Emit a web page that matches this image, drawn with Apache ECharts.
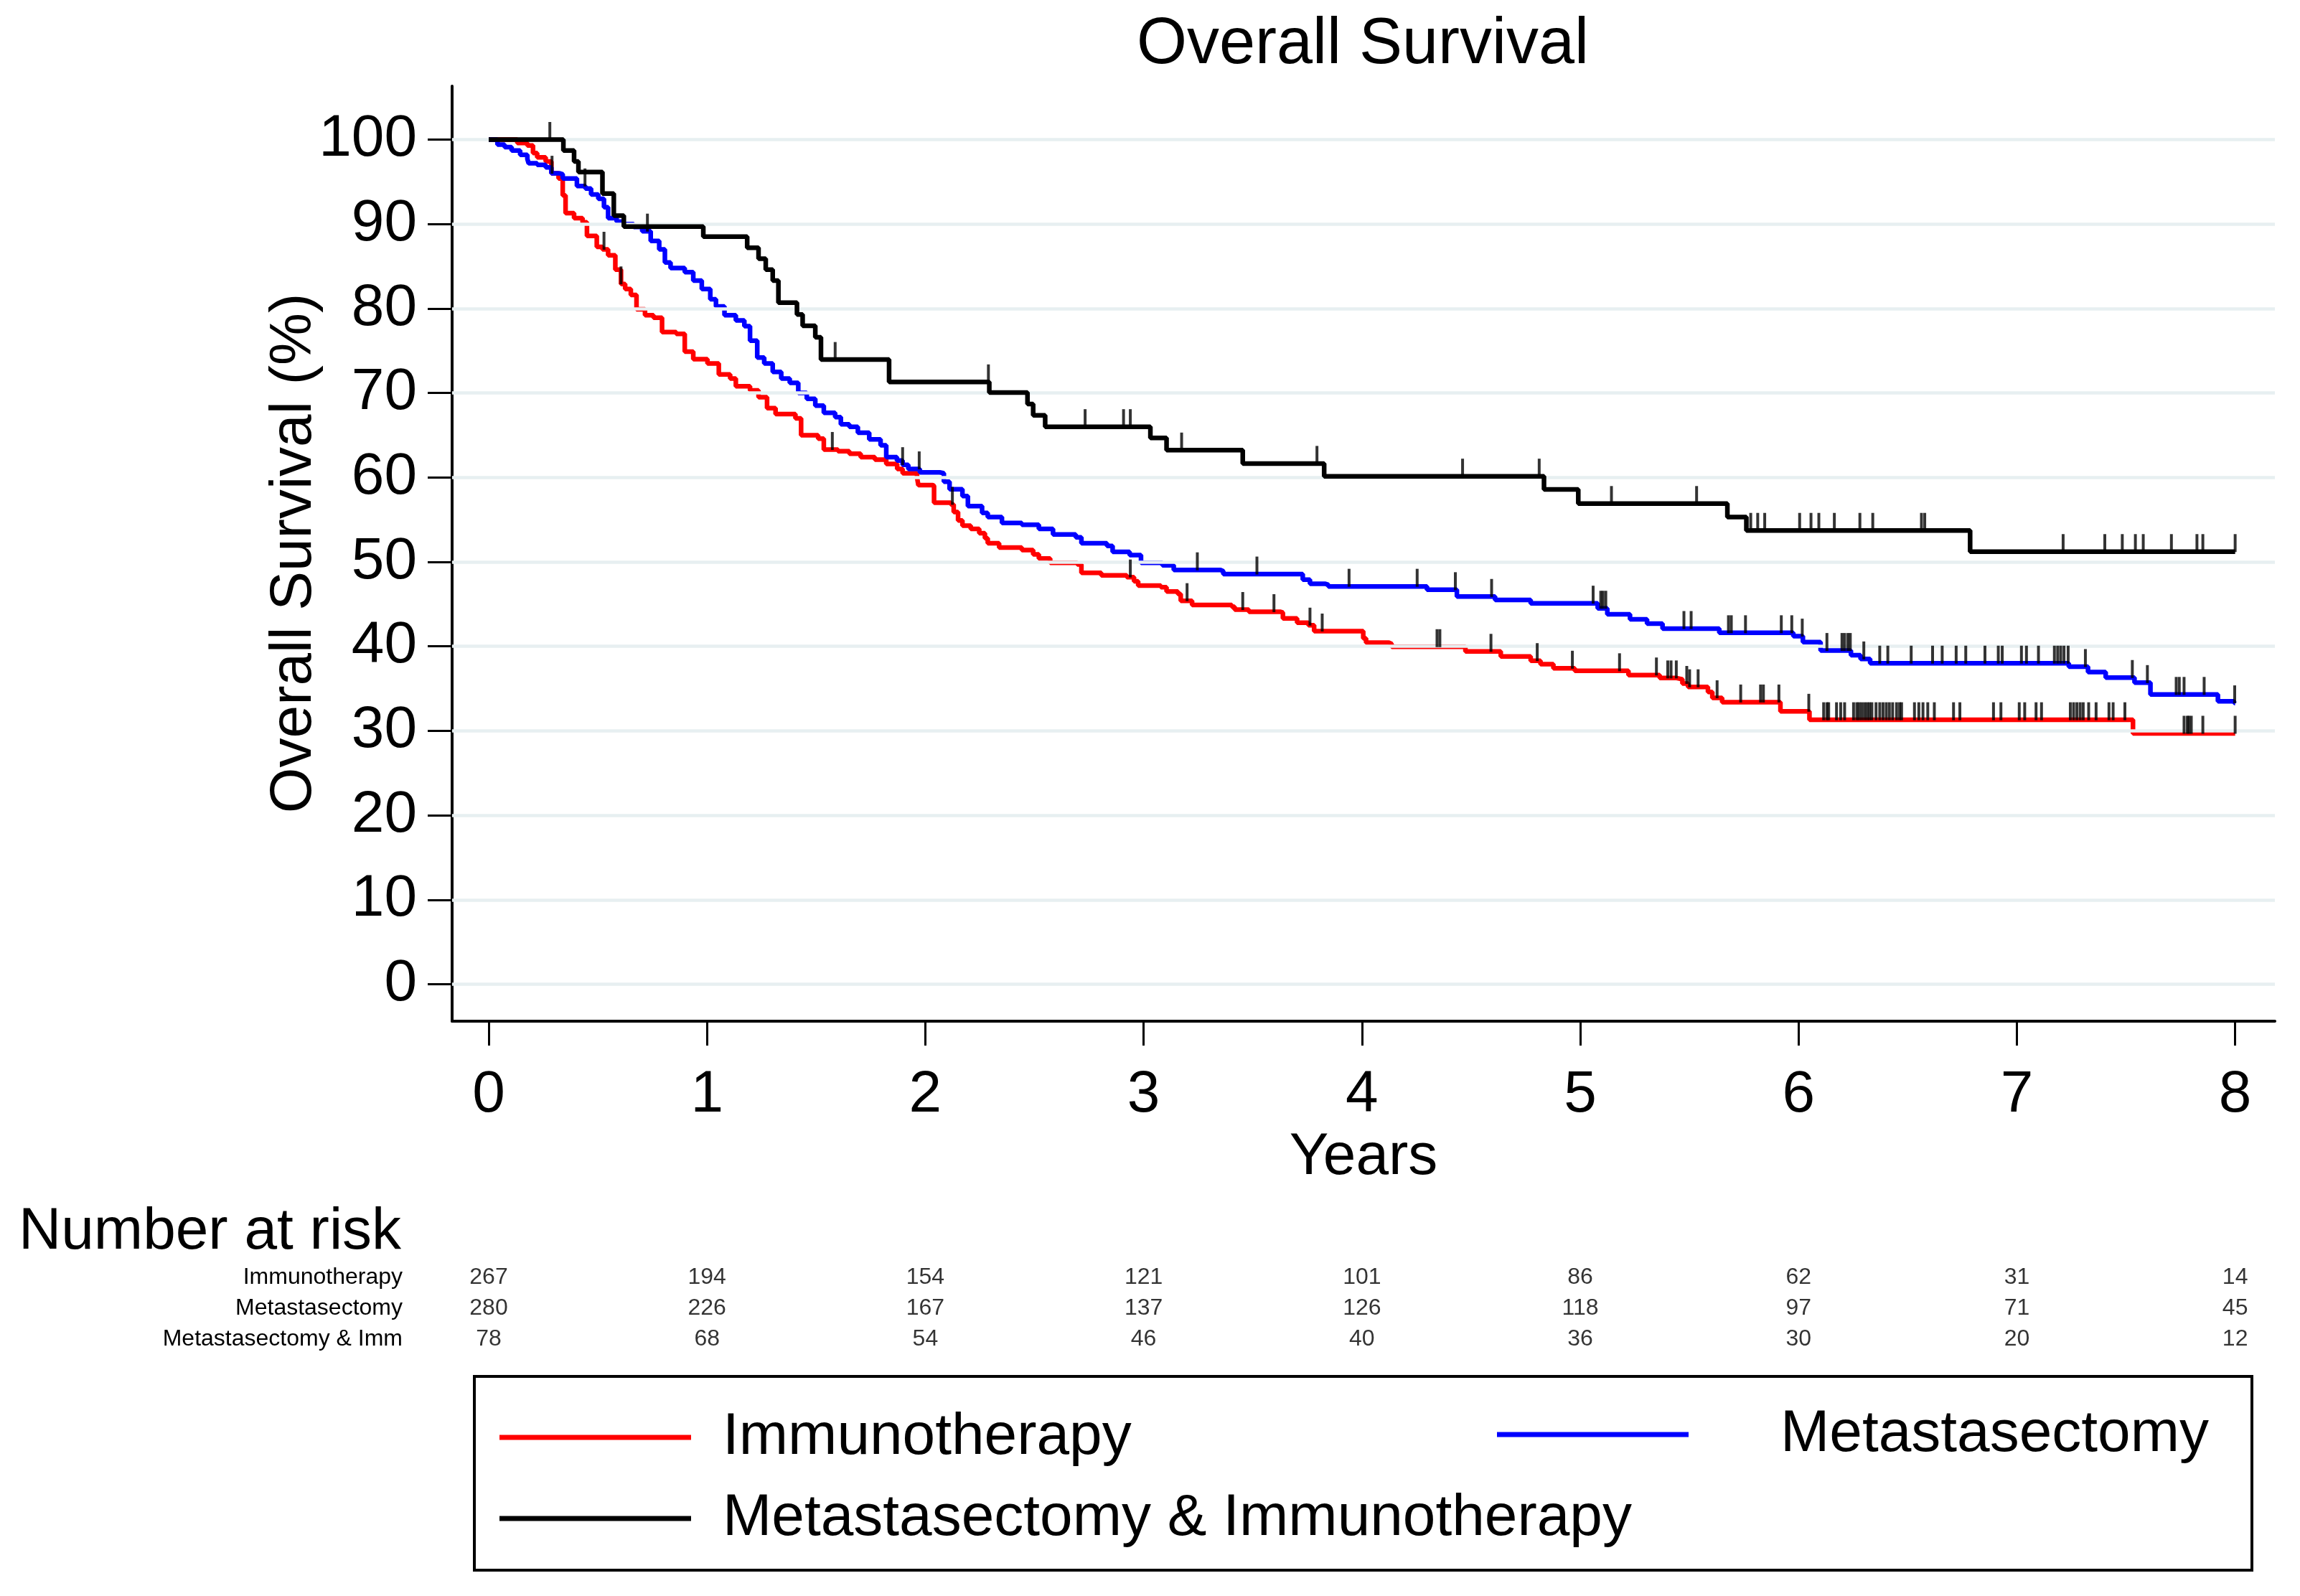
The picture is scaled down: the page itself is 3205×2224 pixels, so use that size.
<!DOCTYPE html>
<html><head><meta charset="utf-8">
<script src="https://cdn.jsdelivr.net/npm/echarts@6/dist/echarts.min.js"></script>
<style>html,body{margin:0;padding:0;background:#fff}#c{width:3205px;height:2224px}</style>
</head><body><div id="c"></div>
<script>
// ---------- data ----------
const groupNames = ['Immunotherapy', 'Metastasectomy', 'Metastasectomy & Immunotherapy'];
const riskRowLabels = ['Immunotherapy', 'Metastasectomy', 'Metastasectomy & Imm'];
const xTickValues = [0, 1, 2, 3, 4, 5, 6, 7, 8];
const yTickValues = [0, 10, 20, 30, 40, 50, 60, 70, 80, 90, 100];

const riskImmuno = [267, 194, 154, 121, 101, 86, 62, 31, 14];
const riskMeta   = [280, 226, 167, 137, 126, 118, 97, 71, 45];
const riskCombo  = [78, 68, 54, 46, 40, 36, 30, 20, 12];

// Kaplan-Meier curves: [years, survival % after the step]
const survImmuno = [[0,100],[0.131,99.6],[0.177,99.3],[0.203,98.4],[0.222,97.9],[0.261,97.4],[0.287,96.0],[0.320,95.4],[0.339,93.4],[0.352,91.3],[0.391,90.7],[0.43,90.2],[0.45,88.6],[0.495,87.3],[0.521,87.0],[0.547,86.3],[0.58,84.6],[0.606,82.9],[0.625,82.3],[0.651,81.6],[0.677,79.9],[0.716,79.2],[0.755,78.9],[0.794,77.2],[0.859,77.0],[0.898,74.9],[0.937,74.0],[1.002,73.5],[1.054,72.2],[1.106,71.7],[1.132,70.8],[1.197,70.3],[1.236,69.5],[1.275,68.2],[1.314,67.5],[1.405,67.0],[1.431,65.0],[1.509,64.6],[1.535,63.3],[1.6,63.1],[1.652,62.8],[1.704,62.4],[1.769,62.1],[1.821,61.6],[1.871,61.0],[1.896,60.5],[1.962,60.0],[1.968,59.1],[2.033,59.0],[2.04,57.0],[2.117,56.8],[2.13,55.9],[2.15,54.9],[2.17,54.3],[2.208,53.9],[2.247,53.4],[2.273,52.8],[2.286,52.2],[2.338,51.7],[2.442,51.4],[2.494,50.9],[2.52,50.4],[2.572,49.9],[2.696,49.7],[2.715,48.7],[2.806,48.4],[2.923,48.2],[2.956,47.7],[2.975,47.2],[3.079,47.0],[3.105,46.5],[3.157,46.2],[3.17,45.4],[3.222,44.9],[3.404,44.7],[3.417,44.35],[3.482,44.1],[3.625,44.0],[3.638,43.3],[3.703,42.8],[3.755,42.5],[3.781,41.8],[4.006,40.95],[4.019,40.45],[4.123,40.3],[4.136,39.95],[4.474,39.4],[4.636,38.8],[4.773,38.3],[4.818,37.9],[4.877,37.4],[4.975,37.1],[5.221,36.6],[5.364,36.25],[5.442,36.1],[5.468,35.6],[5.494,35.2],[5.585,34.6],[5.605,33.9],[5.65,33.4],[5.917,32.3],[6.05,31.3],[7.532,29.7],[8.0,29.7]];

const survMeta = [[0,100],[0.040,99.4],[0.073,99.1],[0.105,98.7],[0.144,98.2],[0.177,97.7],[0.183,97.2],[0.222,97.0],[0.261,96.7],[0.287,96.0],[0.326,95.9],[0.339,95.4],[0.404,94.5],[0.443,94.2],[0.469,93.5],[0.502,93.0],[0.528,92.0],[0.547,90.7],[0.586,90.3],[0.612,90.0],[0.664,89.65],[0.703,89.15],[0.742,88.0],[0.781,87.0],[0.807,85.45],[0.833,84.8],[0.898,84.3],[0.937,83.3],[0.976,82.3],[1.015,81.1],[1.041,80.25],[1.080,79.2],[1.132,78.6],[1.171,77.9],[1.197,76.2],[1.230,74.2],[1.262,73.5],[1.301,72.5],[1.340,71.7],[1.379,71.2],[1.418,70.0],[1.457,69.3],[1.496,68.5],[1.535,67.65],[1.587,67.15],[1.613,66.3],[1.652,66.0],[1.691,65.3],[1.743,64.5],[1.795,63.8],[1.821,62.4],[1.87,62.0],[1.896,61.5],[1.922,61.0],[1.975,60.6],[2.066,60.5],[2.085,59.5],[2.111,58.6],[2.17,57.8],[2.195,56.6],[2.26,55.8],[2.286,55.3],[2.351,54.6],[2.442,54.4],[2.52,53.9],[2.585,53.25],[2.689,52.9],[2.715,52.2],[2.832,51.9],[2.858,51.2],[2.936,50.8],[2.988,49.9],[3.086,49.6],[3.138,49.05],[3.352,48.9],[3.365,48.55],[3.729,47.9],[3.762,47.4],[3.833,47.3],[3.846,47.1],[4.298,46.7],[4.435,45.9],[4.61,45.5],[4.773,45.1],[5.08,44.5],[5.124,43.8],[5.228,43.2],[5.306,42.7],[5.377,42.1],[5.637,41.6],[5.976,41.2],[6.02,40.5],[6.101,39.5],[6.24,38.96],[6.284,38.5],[6.328,38.0],[7.238,37.6],[7.326,36.95],[7.407,36.3],[7.539,35.7],[7.612,34.3],[7.921,33.5],[7.995,33.3],[8.0,33.3]];

const survCombo = [[0,100],[0.342,98.7],[0.391,97.4],[0.411,96.15],[0.521,93.6],[0.573,91.0],[0.619,89.7],[0.983,88.5],[1.184,87.2],[1.236,85.9],[1.269,84.6],[1.301,83.3],[1.327,80.7],[1.412,79.3],[1.438,77.95],[1.496,76.6],[1.522,73.95],[1.834,71.3],[2.293,70.05],[2.468,68.7],[2.494,67.36],[2.549,66.0],[3.031,64.67],[3.105,63.23],[3.454,61.65],[3.827,60.14],[4.834,58.59],[4.991,56.9],[5.674,55.3],[5.761,53.72],[6.786,51.21],[8.0,51.21]];

// censoring times (years)
const censImmuno = [0.528,0.606,1.574,2.124,2.939,3.199,3.454,3.597,3.762,3.818,4.344,4.357,4.591,4.803,4.964,5.18,5.349,5.401,5.416,5.44,5.488,5.501,5.54,5.627,5.735,5.826,5.839,5.91,6.047,6.115,6.13,6.138,6.174,6.193,6.211,6.252,6.267,6.277,6.289,6.302,6.314,6.325,6.336,6.355,6.372,6.387,6.402,6.416,6.431,6.449,6.463,6.472,6.531,6.551,6.57,6.592,6.622,6.71,6.739,6.893,6.927,7.011,7.036,7.088,7.113,7.245,7.26,7.275,7.29,7.304,7.329,7.363,7.422,7.441,7.495,7.766,7.781,7.788,7.799,7.852,8.0];
const censMeta = [0.29,0.441,0.727,1.896,1.972,3.246,3.519,3.941,4.253,4.428,4.594,5.059,5.094,5.104,5.117,5.475,5.508,5.679,5.692,5.757,5.921,5.969,6.017,6.13,6.199,6.211,6.226,6.237,6.299,6.372,6.409,6.516,6.614,6.658,6.722,6.766,6.854,6.915,6.933,7.021,7.044,7.099,7.172,7.187,7.201,7.216,7.235,7.314,7.529,7.598,7.73,7.744,7.766,7.858,7.998];
const censCombo = [0.28,1.587,2.289,2.732,2.908,2.939,3.174,3.794,4.461,4.812,5.143,5.533,5.781,5.813,5.845,6.005,6.057,6.093,6.164,6.281,6.34,6.563,6.578,7.212,7.403,7.483,7.543,7.579,7.708,7.825,7.852,8.0];

// ---------- helpers ----------
function stepAt(curve, t) {
  let v = curve[0][1];
  for (const p of curve) { if (p[0] <= t + 1e-9) v = p[1]; else break; }
  return v;
}
const FONT = 'Liberation Sans, Arial, Helvetica, sans-serif';
const colors = ['#ff0000', '#0000ff', '#000000'];
const curves = [survImmuno, survMeta, survCombo];
const cens = [censImmuno, censMeta, censCombo];
const risks = [riskImmuno, riskMeta, riskCombo];

const X_MIN = -0.1677, X_MAX = 8.182, Y_MIN = -4.375, Y_MAX = 106.33;

const series = [];
// gridlines (drawn through the y scale)
series.push({
  type: 'line', xAxisIndex: 0, yAxisIndex: 0, data: [], silent: true, z: 1,
  markLine: {
    silent: true, symbol: ['none', 'none'], animation: false,
    label: { show: false },
    lineStyle: { color: '#e7eff1', width: 4.5, type: 'solid' },
    emphasis: { disabled: true },
    data: yTickValues.map(v => ({ yAxis: v }))
  }
});
curves.forEach((c, i) => {
  series.push({
    name: groupNames[i], type: 'line', step: 'end', data: c,
    xAxisIndex: 0, yAxisIndex: 0, showSymbol: false, symbol: 'none',
    lineStyle: { color: colors[i], width: 6.5 }, itemStyle: { color: colors[i] },
    z: 3 + i, animation: false, silent: true
  });
});
cens.forEach((arr, i) => {
  series.push({
    name: 'censored ' + i, type: 'scatter', xAxisIndex: 0, yAxisIndex: 0,
    data: arr.map(t => [t, stepAt(curves[i], t)]),
    symbol: 'rect', symbolSize: [4, 25], symbolOffset: [0, -12],
    itemStyle: { color: '#000' }, z: 10, animation: false, silent: true
  });
});
// number at risk table
risks.forEach((arr, i) => {
  series.push({
    name: 'risk ' + i, type: 'scatter', xAxisIndex: 1, yAxisIndex: 1,
    data: arr.map((n, k) => [xTickValues[k], riskRowLabels[i], n]),
    symbolSize: 1, itemStyle: { color: 'rgba(0,0,0,0)' },
    label: { show: true, position: 'inside', formatter: p => String(p.value[2]),
      color: '#000', fontSize: 32, fontFamily: FONT },
    animation: false, silent: true
  });
});

const legendCommon = {
  orient: 'horizontal', icon: 'rect', itemWidth: 267, itemHeight: 7, padding: 0,
  selectedMode: false, itemGap: 0,
  textStyle: { fontSize: 82, fontFamily: FONT, color: '#000' }
};

const option = {
  backgroundColor: '#fff',
  animation: false,
  title: [
    { text: 'Overall Survival', left: 1899, top: 18, textAlign: 'center', padding: 0,
      textStyle: { fontSize: 90, fontWeight: 'normal', fontFamily: FONT, color: '#000' } },
    { text: 'Number at risk', left: 26, top: 1676, padding: 0,
      textStyle: { fontSize: 82, fontWeight: 'normal', fontFamily: FONT, color: '#000' } }
  ],
  legend: [
    Object.assign({}, legendCommon, { data: [groupNames[0]], left: 696, top: 1962,
      textStyle: Object.assign({}, legendCommon.textStyle, { padding: [0, 0, 0, 39] }) }),
    Object.assign({}, legendCommon, { data: [groupNames[1]], left: 2086, top: 1958,
      textStyle: Object.assign({}, legendCommon.textStyle, { padding: [0, 0, 0, 123] }) }),
    Object.assign({}, legendCommon, { data: [groupNames[2]], left: 696, top: 2075,
      textStyle: Object.assign({}, legendCommon.textStyle, { padding: [0, 0, 0, 39] }) })
  ],
  graphic: [
    { type: 'rect', shape: { x: 661, y: 1918, width: 2477, height: 270 },
      style: { fill: 'none', stroke: '#000', lineWidth: 4 }, silent: true },
    { type: 'text', x: 410, y: 771, rotation: Math.PI / 2, silent: true,
      style: { text: 'Overall Survival (%)', fontSize: 82, fontFamily: FONT, fill: '#000',
        align: 'center', verticalAlign: 'middle' } }
  ],
  grid: [
    { left: 630, right: 35, top: 120, bottom: 801, containLabel: false },
    { left: 630, right: 35, top: 1759, height: 129, containLabel: false }
  ],
  xAxis: [
    { type: 'value', gridIndex: 0, min: X_MIN, max: X_MAX,
      name: 'Years', nameLocation: 'middle', nameGap: 143,
      nameTextStyle: { fontSize: 82, fontFamily: FONT, color: '#000' },
      axisLine: { show: true, onZero: false, lineStyle: { color: '#000', width: 4 } },
      axisTick: { show: true, length: 34, inside: false, customValues: xTickValues,
        lineStyle: { color: '#000', width: 3 } },
      axisLabel: { show: true, customValues: xTickValues, margin: 62, fontSize: 82,
        fontFamily: FONT, color: '#000' },
      splitLine: { show: false }
    },
    { type: 'value', gridIndex: 1, min: X_MIN, max: X_MAX, show: false }
  ],
  yAxis: [
    { type: 'value', gridIndex: 0, min: Y_MIN, max: Y_MAX,
      axisLine: { show: true, onZero: false, lineStyle: { color: '#000', width: 4 } },
      axisTick: { show: true, length: 34, customValues: yTickValues,
        lineStyle: { color: '#000', width: 3 } },
      axisLabel: { show: true, customValues: yTickValues, margin: 49, fontSize: 82,
        fontFamily: FONT, color: '#000' },
      splitLine: { show: false }
    },
    { type: 'category', gridIndex: 1, data: riskRowLabels, inverse: true,
      axisLine: { show: false }, axisTick: { show: false }, splitLine: { show: false },
      axisLabel: { fontSize: 32, fontFamily: FONT, color: '#000', margin: 69 } }
  ],
  series: series
};

const chart = echarts.init(document.getElementById('c'), null, { renderer: 'canvas' });
chart.setOption(option);
</script>
</body></html>
